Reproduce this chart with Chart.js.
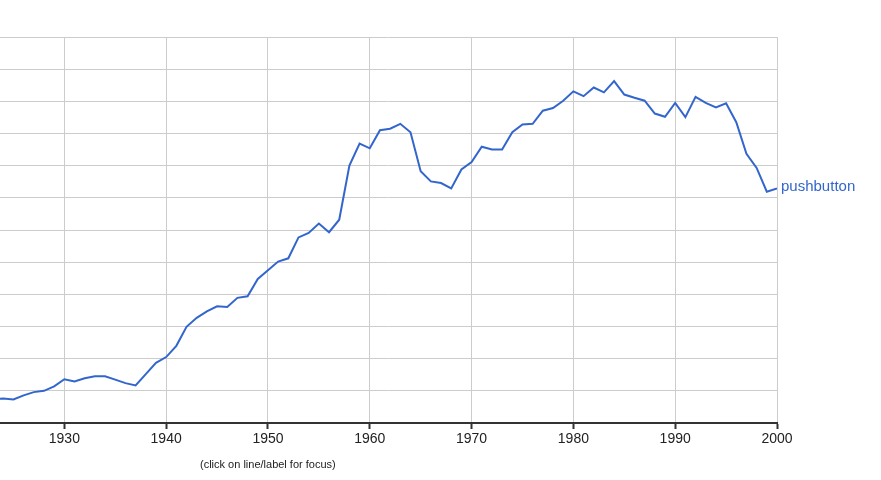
<!DOCTYPE html>
<html>
<head>
<meta charset="utf-8">
<script src="https://cdn.jsdelivr.net/npm/chart.js@4/dist/chart.umd.min.js"></script>
<style>
  html, body { margin: 0; padding: 0; background: #fff; }
  #wrap { position: relative; width: 881px; height: 480px; }
  #caption { position: absolute; left: 200px; top: 457px; font: 11px "Liberation Sans", Arial, sans-serif; line-height: 14px; color: #222; white-space: nowrap; }
</style>
</head>
<body>
<div id="wrap">
  <canvas id="c" width="881" height="480"></canvas>
  <div id="caption">(click on line/label for focus)</div>
</div>
<script>
const years = [];
for (let y = 1923; y <= 2000; y++) years.push(y);
const seriesName = "pushbutton";
const values = [
  0.74, 0.76, 0.73, 0.86, 0.96, 1.00, 1.14,           // 1923-1929
  1.36, 1.29, 1.39, 1.45, 1.45, 1.35, 1.24, 1.17, 1.52, 1.87, // 1930-1939
  2.05, 2.40, 2.99, 3.27, 3.47, 3.63, 3.61, 3.89, 3.94, 4.48, // 1940-1949
  4.75, 5.02, 5.12, 5.77, 5.91, 6.20, 5.93, 6.32, 8.00, 8.69, // 1950-1959
  8.54, 9.10, 9.15, 9.30, 9.04, 7.83, 7.51, 7.46, 7.29, 7.88, // 1960-1969
  8.11, 8.59, 8.50, 8.50, 9.04, 9.28, 9.30, 9.71, 9.79, 10.02, // 1970-1979
  10.31, 10.16, 10.43, 10.28, 10.63, 10.21, 10.11, 10.02, 9.62, 9.52, // 1980-1989
  9.95, 9.51, 10.14, 9.95, 9.81, 9.94, 9.35, 8.37, 7.93, 7.19, // 1990-1999
  7.29                                                 // 2000
];
const decadeTicks = [1930, 1940, 1950, 1960, 1970, 1980, 1990, 2000];
const yGridTicks = [0,1,2,3,4,5,6,7,8,9,10,11,12];

const FONT = '"Liberation Sans", Arial, sans-serif';
const LINE_COLOR = '#3366cc';

const endLabel = {
  id: 'endLabel',
  afterDatasetsDraw(chart) {
    const meta = chart.getDatasetMeta(0);
    const last = meta.data[meta.data.length - 1];
    const ctx = chart.ctx;
    ctx.save();
    ctx.font = '15px ' + FONT;
    ctx.fillStyle = LINE_COLOR;
    ctx.textBaseline = 'middle';
    ctx.textAlign = 'left';
    ctx.fillText(chart.data.datasets[0].label, last.x + 4, last.y - 2);
    ctx.restore();
  }
};

new Chart(document.getElementById('c'), {
  type: 'line',
  data: {
    datasets: [{
      label: seriesName,
      data: years.map((y, i) => ({ x: y, y: values[i] })),
      borderColor: LINE_COLOR,
      borderWidth: 2,
      pointRadius: 0,
      tension: 0,
      fill: false
    }]
  },
  options: {
    responsive: false,
    animation: false,
    events: [],
    layout: { padding: { top: 37, right: 104, left: 0, bottom: 0 } },
    plugins: { legend: { display: false }, tooltip: { enabled: false } },
    scales: {
      x: {
        type: 'linear',
        min: 1923.68,
        max: 2000,
        afterBuildTicks: s => { s.ticks = decadeTicks.map(v => ({ value: v })); },
        afterFit: s => { s.height = 57; },
        grid: { color: '#cccccc', lineWidth: 1, tickColor: '#333333', tickWidth: 2, tickLength: 6 },
        border: { display: true, color: '#333333', width: 2 },
        ticks: { color: '#222222', font: { family: FONT, size: 14 }, padding: 2, maxRotation: 0, callback: v => String(v) }
      },
      y: {
        type: 'linear',
        min: 0,
        max: 12,
        afterBuildTicks: s => { s.ticks = yGridTicks.map(v => ({ value: v })); },
        afterFit: s => { s.width = 0; },
        grid: { color: '#cccccc', lineWidth: 1, drawTicks: false },
        border: { display: false },
        ticks: { display: false }
      }
    }
  },
  plugins: [endLabel]
});
</script>
</body>
</html>
